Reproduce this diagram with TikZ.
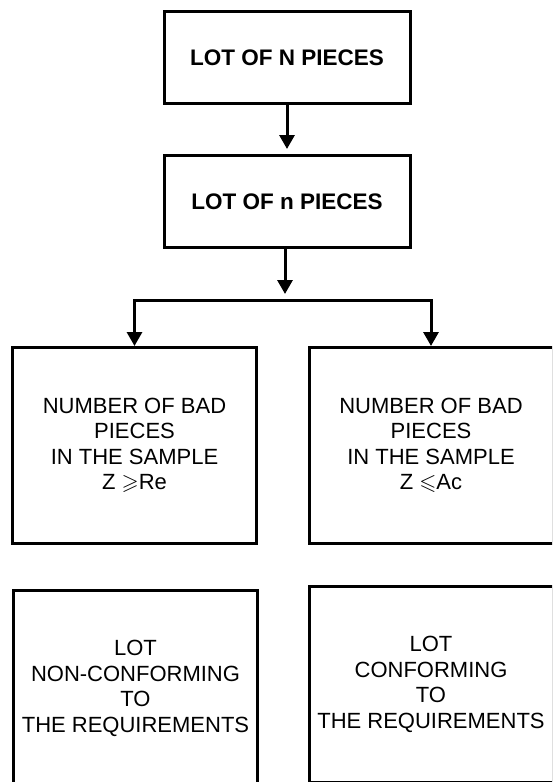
\documentclass[tikz,border=0pt]{standalone}
\usepackage{amsmath,amssymb}
\usepackage{fontspec}
\setmainfont{Liberation Sans}
\usetikzlibrary{arrows.meta}

\tikzset{
    box/.style={draw, line width=3pt, inner sep=0pt, align=center,
                font=\fontsize{22}{25.5}\selectfont},
    title/.style={box, minimum width=246pt, minimum height=92pt,
                  font=\fontsize{22.5}{27}\selectfont\bfseries},
    tall/.style={box, minimum width=244pt, minimum height=196pt},
    arr/.style={line width=3pt, line join=miter,
                -{Triangle[width=15pt,length=14pt]}},
}

\begin{document}
\begin{tikzpicture}[x=1pt,y=-1pt]
            \path[use as bounding box, clip] (0,0) rectangle (552,782);
            \node[title] (lotN) at (287,57.5) {LOT OF N PIECES};
            \node[title] (lotn) at (287,201.5) {LOT OF n PIECES};
            \node[tall] (badRe) at (134.5,445.5) {NUMBER OF BAD\\PIECES\\IN THE SAMPLE\\Z $\geqslant$Re};
            \node[tall] (badAc) at (431,445.5) {NUMBER OF BAD\\PIECES\\IN THE SAMPLE\\Z $\leqslant$Ac};
            \node[tall] (nonconf) at (135.5,688.5) {LOT\\NON-CONFORMING\\TO\\THE REQUIREMENTS};
            \node[tall] (conf) at (431,684.5) {LOT\\CONFORMING\\TO\\THE REQUIREMENTS};
            \coordinate (split) at (285,300);
            \draw[arr, shorten >=5pt] (lotN) -- (lotn);
            \draw[arr, shorten >=6pt] (lotn.south -| split) -- (split);
            \draw[arr] (split) -| (badRe);
            \draw[arr] (split) -| (badAc);
        \end{tikzpicture}
\end{document}
